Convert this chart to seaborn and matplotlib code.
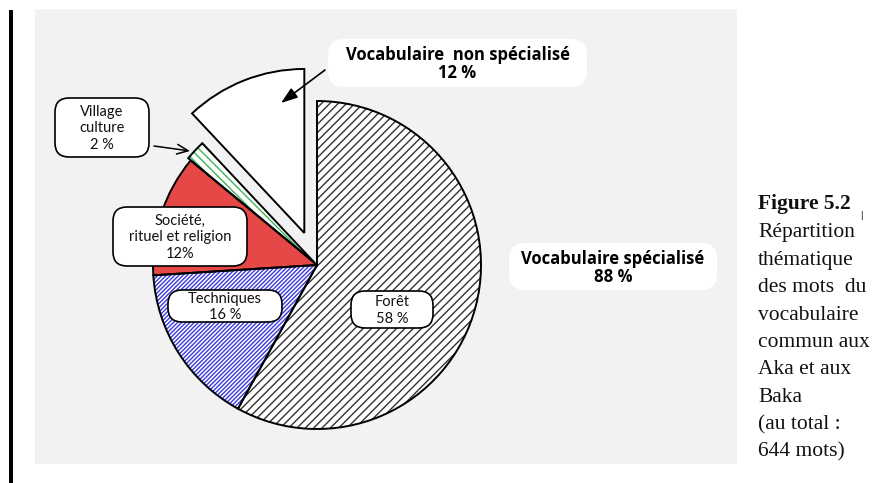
import numpy as np
import matplotlib.pyplot as plt
import seaborn as sns
from matplotlib.patches import Rectangle, FancyBboxPatch, Wedge

# Données du graphique
themes = ["Forêt", "Techniques", "Société,\nrituel et religion", "Village\nculture",
          "Vocabulaire  non spécialisé"]
parts = [58, 16, 12, 2, 12]
pct_labels = ["58 %", "16 %", "12%", "2 %", "12 %"]
explode = [0, 0, 0, 0.02, 0.21]
fills = ["white", "white", "#e64848", "white", "white"]
hatch_colors = ["#333333", "#3a3ae0", "#e64848", "#3cb458", "black"]
hatches = ["////", "////////", None, "\\\\\\\\", None]

caption_lines = ["Répartition", "thématique", "des mots  du", "vocabulaire",
                 "commun aux", "Aka et aux", "Baka", "(au total :", "644 mots)"]

W, H = 872, 483
CX, CY, R = 317, 265, 164


def P(x, y):
    # pixels (origine en haut à gauche) -> unités du graphique
    return (x - CX) / R, (CY - y) / R


sns.set_style("white")
plt.rcParams['font.family'] = ['Lato', 'DejaVu Sans']

fig = plt.figure(figsize=(W / 100, H / 100), dpi=100)
ax = fig.add_axes([0, 0, 1, 1])
x0, y1 = P(0, 0)
x1, y0 = P(W, H)

# fond gris et barre noire à gauche
gx, gy = P(35, 464)
ax.add_patch(Rectangle((gx, gy), (737 - 35) / R, (464 - 9) / R, facecolor="#f2f2f2",
                       edgecolor="none", zorder=0))
bx, by = P(9, 483)
ax.add_patch(Rectangle((bx, by), 4 / R, (483 - 10) / R, facecolor="black",
                       edgecolor="none", zorder=0))

wedges, _ = ax.pie(parts, startangle=90, counterclock=False, explode=explode,
                   radius=1, center=(0, 0), colors=fills,
                   wedgeprops=dict(linewidth=0))
plt.rcParams['hatch.linewidth'] = 0.8
for w, hc, hh in zip(wedges, hatch_colors, hatches):
    if hh:
        w.set_hatch(hh)
        w.set_edgecolor(hc)
    w.set_zorder(2)
    ax.add_patch(Wedge(w.center, w.r, w.theta1, w.theta2, fill=False,
                       edgecolor="black", linewidth=1.4, zorder=3))

ax.set_xlim(x0, x1)
ax.set_ylim(y0, y1)
ax.set_aspect('auto')
ax.axis('off')

# étiquettes encadrées : (x gauche, y haut, x droite, y bas) en pixels
boxes = [
    (351, 291, 433, 328),
    (168, 290, 282, 322),
    (113, 207, 247, 266),
    (55, 98, 149, 157),
]
for i, (l, t, r_, b) in enumerate(boxes):
    lx, ly = P(l, b)
    ax.add_patch(FancyBboxPatch((lx, ly), (r_ - l) / R, (b - t) / R,
                                boxstyle="round,pad=0,rounding_size=%f" % (14 / R),
                                facecolor="white", edgecolor="black", linewidth=1.2,
                                zorder=4))
    ax.text(*P((l + r_) / 2, (t + b) / 2 + 1), themes[i] + "\n" + pct_labels[i],
            ha="center", va="center", multialignment="center", fontsize=10.5,
            linespacing=1.2, color="#111111", zorder=5)

# grandes étiquettes sans bordure
bold_font = ['Open Sans', 'DejaVu Sans']
for (l, t, r_, b), txt in [((328, 39, 587, 87), themes[4] + "\n" + pct_labels[4]),
                           ((509, 243, 717, 290), "Vocabulaire spécialisé\n88 %")]:
    lx, ly = P(l, b)
    ax.add_patch(FancyBboxPatch((lx, ly), (r_ - l) / R, (b - t) / R,
                                boxstyle="round,pad=0,rounding_size=%f" % (16 / R),
                                facecolor="white", edgecolor="none", zorder=4))
    ax.text(*P((l + r_) / 2, (t + b) / 2 + 1), txt, ha="center", va="center",
            multialignment="center", fontsize=12, fontweight="bold",
            family=bold_font, linespacing=1.0, color="black", zorder=5)

# flèches
ax.annotate("", xy=P(281, 103), xytext=P(325, 70), zorder=6,
            arrowprops=dict(arrowstyle="-|>,head_length=1.0,head_width=0.35",
                            color="black", lw=1.2, shrinkA=0, shrinkB=0))
ax.annotate("", xy=P(190, 151), xytext=P(154, 146), zorder=6,
            arrowprops=dict(arrowstyle="->,head_length=0.8,head_width=0.35",
                            color="black", lw=1.1, shrinkA=0, shrinkB=0))

# légende de la figure
serif = ['Liberation Serif', 'DejaVu Serif']
ax.text(*P(758, 204), "Figure 5.2", family=serif, fontsize=15.5, fontweight="bold",
        ha="left", va="center", color="#111111")
ax.text(*P(860, 215), "|", family=serif, fontsize=8, fontweight="bold",
        ha="left", va="center", color="#111111")
for i, line in enumerate(caption_lines):
    ax.text(*P(758, 233 + i * 27.4), line, family=serif, fontsize=15.5,
            ha="left", va="center", color="#111111")

fig.savefig("out.png", dpi=100, facecolor="white")
